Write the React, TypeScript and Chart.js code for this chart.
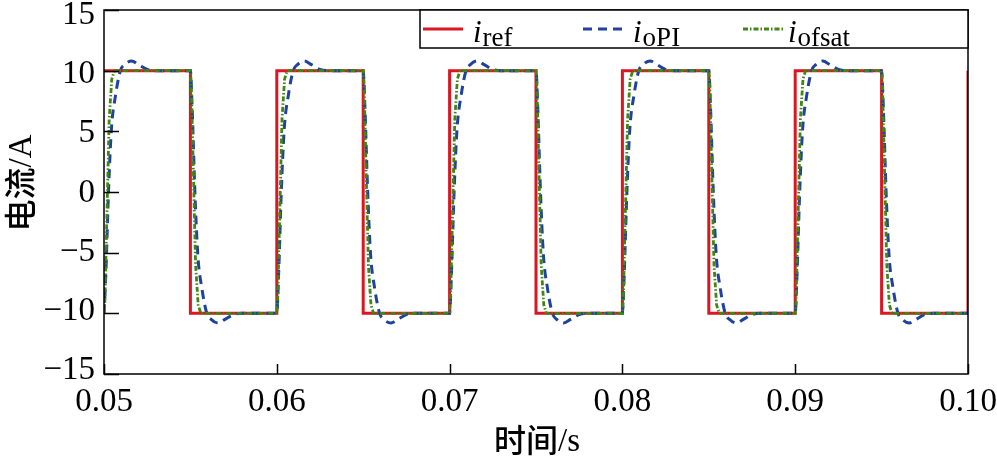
import React, { useEffect, useRef } from 'react';
import { Chart, registerables } from 'chart.js';
Chart.register(...registerables);

// i_ref : ideal square-wave reference
const refTime = [0.05, 0.055, 0.055, 0.06, 0.06, 0.065, 0.065, 0.07, 0.07, 0.075, 0.075, 0.08, 0.08, 0.085, 0.085, 0.09, 0.09, 0.095, 0.095, 0.1, 0.1];
const refCurrent = [10, 10, -10, -10, 10, 10, -10, -10, 10, 10, -10, -10, 10, 10, -10, -10, 10, 10, -10, -10, 10];

// i_oPI : PI controller output (slower, with overshoot)
const oPITime = [
  0.05, 0.0501, 0.05026, 0.05043, 0.05066, 0.05095, 0.0512, 0.0516, 0.052, 0.0525, 0.053,
  0.055, 0.0551, 0.05526, 0.05543, 0.05566, 0.05595, 0.0562, 0.0566, 0.057, 0.0575, 0.058,
  0.06, 0.0601, 0.06026, 0.06043, 0.06066, 0.06095, 0.0612, 0.0616, 0.062, 0.0625, 0.063,
  0.065, 0.0651, 0.06526, 0.06543, 0.06566, 0.06595, 0.0662, 0.0666, 0.067, 0.0675, 0.068,
  0.07, 0.0701, 0.07026, 0.07043, 0.07066, 0.07095, 0.0712, 0.0716, 0.072, 0.0725, 0.073,
  0.075, 0.0751, 0.07526, 0.07543, 0.07566, 0.07595, 0.0762, 0.0766, 0.077, 0.0775, 0.078,
  0.08, 0.0801, 0.08026, 0.08043, 0.08066, 0.08095, 0.0812, 0.0816, 0.082, 0.0825, 0.083,
  0.085, 0.0851, 0.08526, 0.08543, 0.08566, 0.08595, 0.0862, 0.0866, 0.087, 0.0875, 0.088,
  0.09, 0.0901, 0.09026, 0.09043, 0.09066, 0.09095, 0.0912, 0.0916, 0.092, 0.0925, 0.093,
  0.095, 0.0951, 0.09526, 0.09543, 0.09566, 0.09595, 0.0962, 0.0966, 0.097, 0.0975, 0.098,
  0.1,
];
const oPICurrent = [
  -10, -7, 0, 5.2, 7.9, 10, 10.5, 10.8, 10.5, 10.1, 10,
  10, 7, 0, -5.2, -7.9, -10, -10.5, -10.8, -10.5, -10.1, -10,
  -10, -7, 0, 5.2, 7.9, 10, 10.5, 10.8, 10.5, 10.1, 10,
  10, 7, 0, -5.2, -7.9, -10, -10.5, -10.8, -10.5, -10.1, -10,
  -10, -7, 0, 5.2, 7.9, 10, 10.5, 10.8, 10.5, 10.1, 10,
  10, 7, 0, -5.2, -7.9, -10, -10.5, -10.8, -10.5, -10.1, -10,
  -10, -7, 0, 5.2, 7.9, 10, 10.5, 10.8, 10.5, 10.1, 10,
  10, 7, 0, -5.2, -7.9, -10, -10.5, -10.8, -10.5, -10.1, -10,
  -10, -7, 0, 5.2, 7.9, 10, 10.5, 10.8, 10.5, 10.1, 10,
  10, 7, 0, -5.2, -7.9, -10, -10.5, -10.8, -10.5, -10.1, -10,
  -10,
];

// i_ofsat : fast controller output
const ofsatTime = [
  0.05, 0.05005, 0.0503, 0.05045, 0.0506,
  0.055, 0.05505, 0.0553, 0.05545, 0.0556,
  0.06, 0.06005, 0.0603, 0.06045, 0.0606,
  0.065, 0.06505, 0.0653, 0.06545, 0.0656,
  0.07, 0.07005, 0.0703, 0.07045, 0.0706,
  0.075, 0.07505, 0.0753, 0.07545, 0.0756,
  0.08, 0.08005, 0.0803, 0.08045, 0.0806,
  0.085, 0.08505, 0.0853, 0.08545, 0.0856,
  0.09, 0.09005, 0.0903, 0.09045, 0.0906,
  0.095, 0.09505, 0.0953, 0.09545, 0.0956,
  0.1,
];
const ofsatCurrent = [
  -10, -9, 6, 9.3, 10,
  10, 9, -6, -9.3, -10,
  -10, -9, 6, 9.3, 10,
  10, 9, -6, -9.3, -10,
  -10, -9, 6, 9.3, 10,
  10, 9, -6, -9.3, -10,
  -10, -9, 6, 9.3, 10,
  10, 9, -6, -9.3, -10,
  -10, -9, 6, 9.3, 10,
  10, 9, -6, -9.3, -10,
  -10,
];

const xTickValues = [0.05, 0.06, 0.07, 0.08, 0.09, 0.1];
const xTickLabels = ['0.05', '0.06', '0.07', '0.08', '0.09', '0.10'];
const yTickValues = [-15, -10, -5, 0, 5, 10, 15];
const yTickLabels = ['\u221215', '\u221210', '\u22125', '0', '5', '10', '15'];
const seriesSubscripts = ['ref', 'oPI', 'ofsat'];
const xTitleCJK = '时间';
const xTitleUnit = '/s';
const yTitleCJK = '电流';
const yTitleUnit = '/A';

const RED = '#dc1620';
const BLUE = '#20429c';
const GREEN = '#3f8712';
const SERIF = "'Liberation Serif', 'Times New Roman', serif";
const CJK = "'Noto Sans CJK SC', sans-serif";

const toPoints = (xs: number[], ys: number[]) => xs.map((x, i) => ({ x, y: ys[i] }));

function drawTitle(ctx: CanvasRenderingContext2D, cjk: string, unit: string, cx: number, cy: number, rotate: boolean) {
  ctx.save();
  ctx.translate(cx, cy);
  if (rotate) ctx.rotate(-Math.PI / 2);
  ctx.fillStyle = '#000';
  ctx.textBaseline = 'middle';
  ctx.textAlign = 'left';
  const cjkFont = `500 32px ${CJK}`;
  const unitFont = `33px ${SERIF}`;
  ctx.font = cjkFont;
  const w1 = ctx.measureText(cjk).width;
  ctx.font = unitFont;
  const w2 = ctx.measureText(unit).width;
  const x0 = -(w1 + w2) / 2;
  ctx.font = cjkFont;
  ctx.fillText(cjk, x0, 0);
  ctx.font = unitFont;
  ctx.fillText(unit, x0 + w1, 2);
  ctx.restore();
}

const framePlugin = {
  id: 'frameAndLegend',
  afterDraw(chart: any) {
    const { ctx, chartArea } = chart;
    const { left, right, top, bottom } = chartArea;
    const xs = chart.scales.x;
    const ys = chart.scales.y;
    ctx.save();
    ctx.strokeStyle = '#000';
    ctx.lineWidth = 1.5;
    ctx.setLineDash([]);
    ctx.strokeRect(left, top, right - left, bottom - top);
    // inward ticks
    ctx.beginPath();
    xTickValues.forEach((v) => {
      const px = Math.round(xs.getPixelForValue(v)) + 0.5;
      ctx.moveTo(px, bottom);
      ctx.lineTo(px, bottom - 10);
    });
    yTickValues.forEach((v) => {
      const py = Math.round(ys.getPixelForValue(v)) + 0.5;
      ctx.moveTo(left, py);
      ctx.lineTo(left + 15, py);
    });
    ctx.stroke();

    // y tick labels
    const midY = (top + bottom) / 2;
    ctx.fillStyle = '#000';
    ctx.font = `33px ${SERIF}`;
    ctx.textAlign = 'right';
    ctx.textBaseline = 'middle';
    yTickValues.forEach((v, i) => {
      const py = ys.getPixelForValue(v);
      ctx.fillText(yTickLabels[i], left - 9, midY + (py - midY) * 0.976 + 1);
    });

    // axis titles
    drawTitle(ctx, xTitleCJK, xTitleUnit, (left + right) / 2 + 1, 440, false);
    drawTitle(ctx, yTitleCJK, yTitleUnit, 20, 183, true);

    // legend box
    const bx = 420;
    const by = top;
    const bw = right - bx;
    const bh = 38;
    ctx.fillStyle = '#fff';
    ctx.fillRect(bx, by, bw, bh);
    ctx.strokeStyle = '#000';
    ctx.lineWidth = 1.5;
    ctx.strokeRect(bx, by, bw, bh);

    const items = [
      { color: RED, dash: [] as number[], width: 3, x0: 423, tx: 473 },
      { color: BLUE, dash: [9, 6], width: 3, x0: 583, tx: 633 },
      { color: GREEN, dash: [5, 2, 1.5, 2], width: 2.8, x0: 743, tx: 788 },
    ];
    const ly = by + 19;
    items.forEach((it, i) => {
      ctx.beginPath();
      ctx.strokeStyle = it.color;
      ctx.lineWidth = it.width;
      ctx.setLineDash(it.dash);
      ctx.moveTo(it.x0, ly);
      ctx.lineTo(it.x0 + 40, ly);
      ctx.stroke();
      ctx.setLineDash([]);
      ctx.fillStyle = '#000';
      ctx.textBaseline = 'alphabetic';
      ctx.textAlign = 'left';
      ctx.font = `italic 31px ${SERIF}`;
      ctx.fillText('i', it.tx, by + 32);
      const iw = ctx.measureText('i').width;
      ctx.font = `27px ${SERIF}`;
      ctx.fillText(seriesSubscripts[i], it.tx + iw + 1, by + 36);
    });
    ctx.restore();
  },
};

export default function App() {
  const canvasRef = useRef<HTMLCanvasElement | null>(null);

  useEffect(() => {
    const canvas = canvasRef.current;
    if (!canvas) return;
    const chart = new Chart(canvas, {
      type: 'line',
      data: {
        datasets: [
          {
            label: 'iref',
            data: toPoints(refTime, refCurrent),
            borderColor: RED,
            borderWidth: 3,
            pointRadius: 0,
            tension: 0,
            order: 3,
          },
          {
            label: 'ioPI',
            data: toPoints(oPITime, oPICurrent),
            borderColor: BLUE,
            borderWidth: 3,
            borderDash: [9, 6],
            pointRadius: 0,
            tension: 0,
            cubicInterpolationMode: 'monotone',
            order: 2,
          },
          {
            label: 'iofsat',
            data: toPoints(ofsatTime, ofsatCurrent),
            borderColor: GREEN,
            borderWidth: 2.8,
            borderDash: [5, 2, 1.5, 2],
            pointRadius: 0,
            tension: 0,
            order: 1,
          },
        ],
      },
      options: {
        animation: false,
        responsive: false,
        devicePixelRatio: 1,
        layout: { padding: { top: 10, right: 29, left: 0, bottom: 0 } },
        plugins: { legend: { display: false }, tooltip: { enabled: false } },
        scales: {
          x: {
            type: 'linear',
            min: 0.05,
            max: 0.1,
            grid: { display: false, drawTicks: false },
            border: { display: false },
            afterBuildTicks: (s: any) => {
              s.ticks = xTickValues.map((v) => ({ value: v }));
            },
            ticks: {
              autoSkip: false,
              maxRotation: 0,
              padding: 9,
              color: '#000',
              font: { family: SERIF, size: 33 },
              callback: (v: any) => {
                const i = xTickValues.findIndex((t) => Math.abs(t - Number(v)) < 1e-9);
                return i >= 0 ? xTickLabels[i] : '';
              },
            },
            afterFit: (s: any) => {
              s.height = 87;
              s.paddingLeft = 0;
              s.paddingRight = 0;
            },
          },
          y: {
            type: 'linear',
            min: -15,
            max: 15,
            grid: { display: false, drawTicks: false },
            border: { display: false },
            afterBuildTicks: (s: any) => {
              s.ticks = yTickValues.map((v) => ({ value: v }));
            },
            ticks: { display: false },
            afterFit: (s: any) => {
              s.width = 104;
              s.paddingTop = 0;
              s.paddingBottom = 0;
            },
          },
        },
      },
      plugins: [framePlugin],
    } as any);
    return () => chart.destroy();
  }, []);

  return (
    <div style={{ position: 'absolute', left: 0, top: 0, width: 997, height: 461, background: '#fff' }}>
      <canvas ref={canvasRef} width={997} height={461} style={{ display: 'block' }} />
    </div>
  );
}
